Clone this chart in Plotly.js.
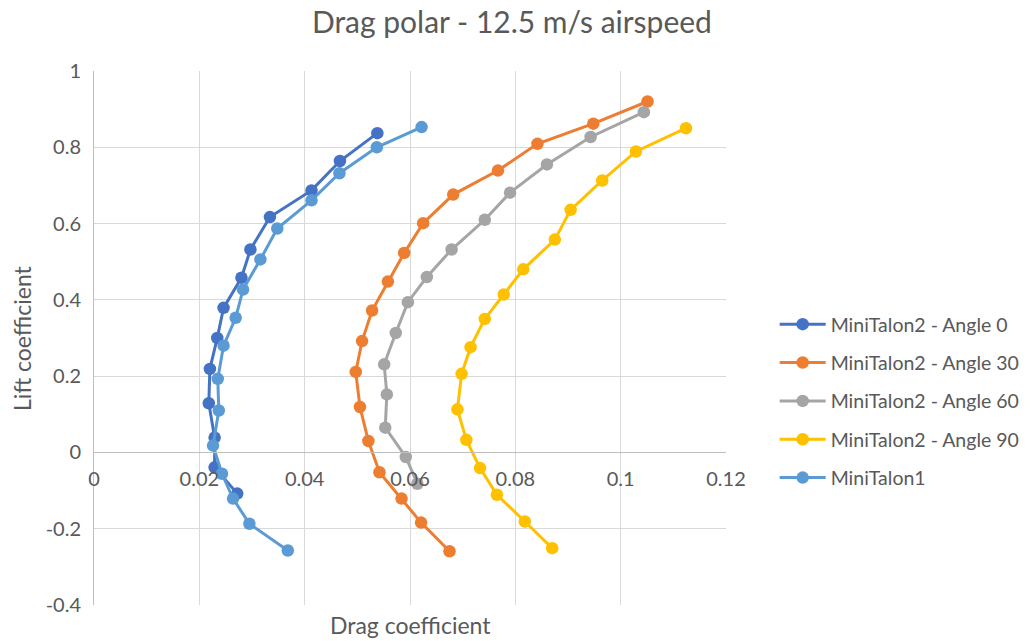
<!DOCTYPE html>
<html>
<head>
<meta charset="utf-8">
<script src="https://cdn.plot.ly/plotly-3.0.1.min.js"></script>
<style>html,body{margin:0;padding:0;background:#fff;}#chart{width:1030px;height:641px;}</style>
</head>
<body>
<div id="chart"></div>
<script>
// Series names
const seriesNames = ["MiniTalon2 - Angle 0", "MiniTalon2 - Angle 30", "MiniTalon2 - Angle 60", "MiniTalon2 - Angle 90", "MiniTalon1"];
const seriesColors = ["#4472C4", "#ED7D31", "#A5A5A5", "#FFC000", "#5B9BD5"];

// Drag coefficient (x) and lift coefficient (y) per series
const angle0Cd = [0.0538, 0.0467, 0.0413, 0.0334, 0.0297, 0.0280, 0.0246, 0.0234, 0.0220, 0.0218, 0.0229, 0.0229, 0.0272];
const angle0Cl = [0.837, 0.764, 0.687, 0.617, 0.532, 0.458, 0.379, 0.300, 0.219, 0.129, 0.039, -0.039, -0.108];

const angle30Cd = [0.1051, 0.0948, 0.0842, 0.0767, 0.0682, 0.0625, 0.0589, 0.0558, 0.0528, 0.0509, 0.0497, 0.0505, 0.0521, 0.0542, 0.0584, 0.0621, 0.0675];
const angle30Cl = [0.920, 0.862, 0.809, 0.739, 0.676, 0.601, 0.523, 0.448, 0.372, 0.292, 0.211, 0.119, 0.030, -0.052, -0.121, -0.184, -0.259];

const angle60Cd = [0.1044, 0.0943, 0.0860, 0.0790, 0.0742, 0.0679, 0.0632, 0.0596, 0.0573, 0.0551, 0.0556, 0.0553, 0.0592, 0.0614];
const angle60Cl = [0.892, 0.827, 0.755, 0.681, 0.610, 0.532, 0.460, 0.394, 0.313, 0.231, 0.152, 0.065, -0.012, -0.082];

const angle90Cd = [0.1124, 0.1029, 0.0965, 0.0905, 0.0875, 0.0815, 0.0778, 0.0742, 0.0715, 0.0698, 0.0690, 0.0707, 0.0733, 0.0765, 0.0818, 0.0870];
const angle90Cl = [0.850, 0.789, 0.713, 0.636, 0.558, 0.480, 0.414, 0.350, 0.276, 0.206, 0.113, 0.033, -0.041, -0.111, -0.181, -0.251];

const talon1Cd = [0.0622, 0.0537, 0.0466, 0.0413, 0.0348, 0.0316, 0.0283, 0.0269, 0.0246, 0.0235, 0.0237, 0.0226, 0.0243, 0.0264, 0.0295, 0.0368];
const talon1Cl = [0.853, 0.800, 0.732, 0.661, 0.587, 0.506, 0.427, 0.353, 0.280, 0.193, 0.110, 0.018, -0.056, -0.121, -0.187, -0.257];

const xTicks = [0, 0.02, 0.04, 0.06, 0.08, 0.1, 0.12];
const xTickText = ["0", "0.02", "0.04", "0.06", "0.08", "0.1", "0.12"];
const yTicks = [-0.4, -0.2, 0, 0.2, 0.4, 0.6, 0.8, 1];
const yTickText = ["-0.4", "-0.2", "0", "0.2", "0.4", "0.6", "0.8", "1"];

const xs = [angle0Cd, angle30Cd, angle60Cd, angle90Cd, talon1Cd];
const ys = [angle0Cl, angle30Cl, angle60Cl, angle90Cl, talon1Cl];

const FONT = "Lato, 'Open Sans', sans-serif";
const TXT = "#595959";

const traces = seriesNames.map((n, i) => ({
  type: "scatter",
  mode: "lines+markers",
  name: n,
  legendgroup: "g" + i,
  x: xs[i],
  y: ys[i],
  line: {color: seriesColors[i], width: 3},
  marker: {color: seriesColors[i], size: 12.5}
}));

const layout = {
  width: 1030,
  height: 641,
  paper_bgcolor: "#ffffff",
  plot_bgcolor: "#ffffff",
  margin: {l: 94, r: 304, t: 71, b: 36, autoexpand: false},
  font: {family: FONT, color: TXT, size: 20},
  title: {text: "Drag polar - 12.5 m/s airspeed", font: {family: FONT, size: 30, color: TXT}, x: 0.497, xanchor: "center", y: 0.965, yanchor: "middle"},
  xaxis: {
    range: [0, 0.12],
    tickvals: xTicks,
    ticktext: xTickText,
    showgrid: true,
    gridcolor: "#D9D9D9",
    gridwidth: 1,
    zeroline: false,
    showline: true,
    linecolor: "#BFBFBF",
    linewidth: 1,
    anchor: "free",
    position: 0.4 / 1.4,
    ticks: "",
    ticklabelstandoff: 9,
    tickfont: {family: FONT, size: 20, color: TXT}
  },
  yaxis: {
    range: [-0.4, 1],
    tickvals: yTicks,
    ticktext: yTickText,
    showgrid: true,
    gridcolor: "#D9D9D9",
    gridwidth: 1,
    zeroline: false,
    showline: true,
    linecolor: "#BFBFBF",
    linewidth: 1,
    ticks: "",
    ticklabelstandoff: 8,
    tickfont: {family: FONT, size: 20, color: TXT}
  },
  showlegend: true,
  legend: {
    x: 1.077, xanchor: "left",
    y: 0.382, yanchor: "middle",
    font: {family: FONT, size: 19.5, color: TXT},
    tracegroupgap: 10,
    itemwidth: 46,
    bgcolor: "rgba(0,0,0,0)"
  },
  annotations: [
    {text: "Drag coefficient", xref: "paper", yref: "paper", x: 0.5, y: -0.0375, xanchor: "center", yanchor: "middle", showarrow: false, font: {family: FONT, size: 23, color: TXT}},
    {text: "Lift coefficient", xref: "paper", yref: "paper", x: -0.114, y: 0.5, xanchor: "center", yanchor: "middle", textangle: -90, showarrow: false, font: {family: FONT, size: 23, color: TXT}}
  ]
};

Plotly.newPlot("chart", traces, layout, {displayModeBar: false, staticPlot: true});
</script>
</body>
</html>
